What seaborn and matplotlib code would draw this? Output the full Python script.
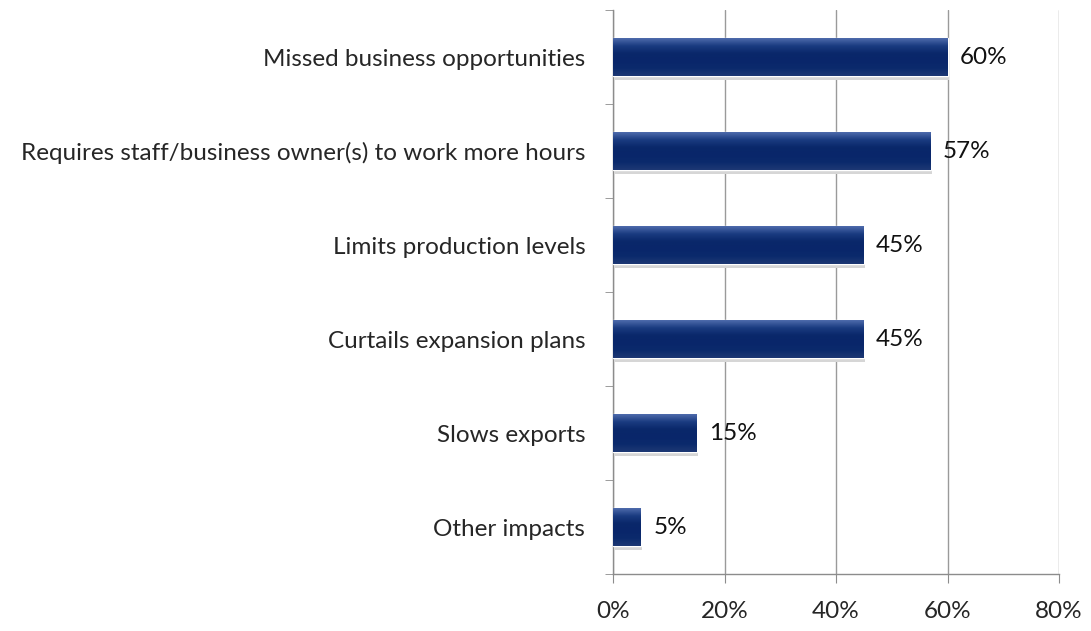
import matplotlib
matplotlib.use("Agg")
import matplotlib.pyplot as plt
import numpy as np
import pandas as pd
import seaborn as sns
from matplotlib.colors import LinearSegmentedColormap

# Data
categories = [
    "Missed business opportunities",
    "Requires staff/business owner(s) to work more hours",
    "Limits production levels",
    "Curtails expansion plans",
    "Slows exports",
    "Other impacts",
]
values = [60, 57, 45, 45, 15, 5]
xticks = [0, 20, 40, 60, 80]

df = pd.DataFrame({"impact": categories, "pct": values})

sns.set_style("white")
plt.rcParams["font.family"] = ["Lato", "DejaVu Sans"]
FS = 17.5

fig = plt.figure(figsize=(10.91, 6.31), dpi=100)
ax = fig.add_axes([0.562, 0.090, 0.4087, 0.894])

sns.barplot(data=df, y="impact", x="pct", orient="h", color="#0b2a6b",
            width=0.4, ax=ax, zorder=3)

# bevel-like vertical gradient inside each bar
grad = LinearSegmentedColormap.from_list(
    "bevel", ["#4d6aab", "#1a3b80", "#0a286a", "#09266a", "#0b2a6c", "#1d3874"])
g = np.linspace(0, 1, 64).reshape(-1, 1)
for p in ax.patches:
    x0, y0 = p.get_x(), p.get_y()
    w, h = p.get_width(), p.get_height()
    im = ax.imshow(g, cmap=grad, aspect="auto", extent=[x0, x0 + w, y0 + h, y0],
                   zorder=4)
    im.set_clip_path(p)
    # drop shadow
    ax.add_patch(plt.Rectangle((x0 + 0.25, y0 + 0.04), w, h, color="#d6d6d6",
                               zorder=2, lw=0))
    ax.text(x0 + w + 2.2, y0 + h / 2, f"{int(round(w))}%", va="center",
            ha="left", fontsize=FS, color="#111111", zorder=5)

ax.set_xlim(0, 80)
ax.set_ylim(len(categories) - 0.5, -0.5)
ax.set_xticks(xticks)
ax.set_xticklabels([f"{t}%" for t in xticks], fontsize=FS)
ax.tick_params(axis="x", length=6.5, color="#8c8c8c", pad=13, direction="out",
               bottom=True)
ax.set_yticks(range(len(categories)))
ax.set_yticklabels(categories, fontsize=FS)
ax.tick_params(axis="y", length=0, pad=20)
ax.set_yticks(np.arange(-0.5, len(categories), 1), minor=True)
ax.tick_params(axis="y", which="minor", length=6, color="#8c8c8c", left=True,
               direction="out")
ax.set_xlabel("")
ax.set_ylabel("")

ax.grid(axis="x", color="#9a9a9a", lw=1.0, zorder=0)
ax.set_axisbelow(True)
for s in ["top", "right"]:
    ax.spines[s].set_visible(False)
for s in ["left", "bottom"]:
    ax.spines[s].set_color("#8c8c8c")
    ax.spines[s].set_linewidth(1.0)

fig.savefig("out.png", dpi=100)
